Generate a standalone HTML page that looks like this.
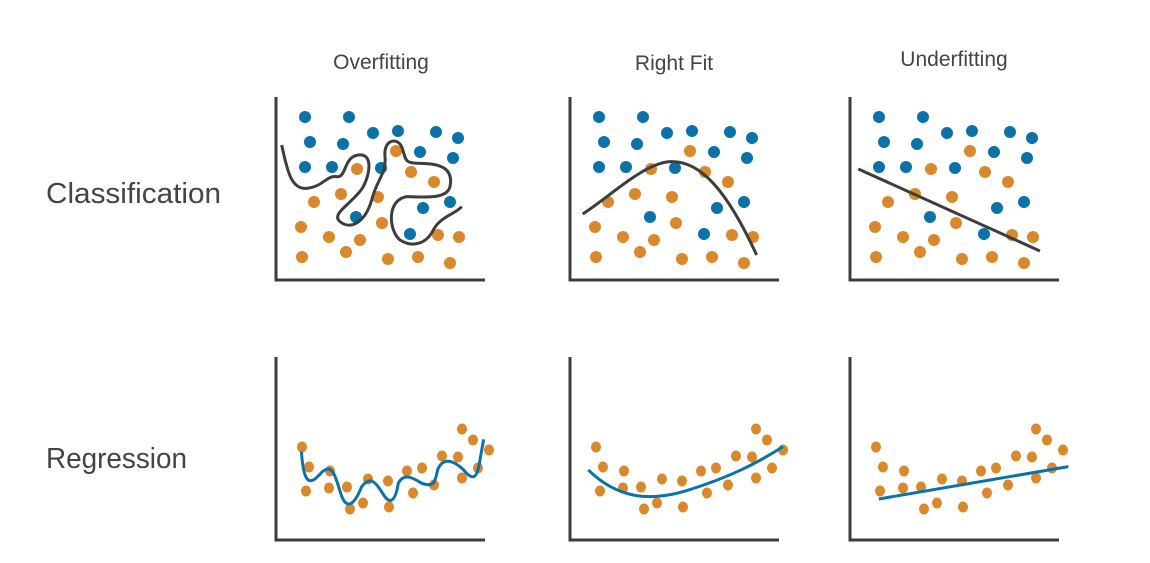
<!DOCTYPE html>
<html><head><meta charset="utf-8"><style>
html,body{margin:0;padding:0;background:#fff;width:1150px;height:563px;overflow:hidden}
svg{display:block}
text{font-family:"Liberation Sans",sans-serif;fill:#444}
</style></head><body>
<svg width="1150" height="563" viewBox="0 0 1150 563">
<defs>
<g id="cdots">
<g fill="#0a72a8">
<circle cx="305" cy="117" r="6"/><circle cx="349" cy="117" r="6"/><circle cx="310" cy="142" r="6"/><circle cx="343" cy="144" r="6"/><circle cx="373" cy="133" r="6"/><circle cx="398" cy="131" r="6"/><circle cx="436" cy="132" r="6"/><circle cx="458" cy="138" r="6"/><circle cx="420" cy="152" r="6"/><circle cx="453" cy="158" r="6"/><circle cx="305" cy="167" r="6"/><circle cx="332" cy="167" r="6"/><circle cx="381" cy="168" r="6"/><circle cx="356" cy="217" r="6"/><circle cx="423" cy="208" r="6"/><circle cx="450" cy="202" r="6"/><circle cx="410" cy="234" r="6"/>
</g>
<g fill="#d9882c">
<circle cx="396" cy="151" r="6"/><circle cx="357" cy="169" r="6"/><circle cx="411" cy="172" r="6"/><circle cx="434" cy="182" r="6"/><circle cx="314" cy="202" r="6"/><circle cx="341" cy="194" r="6"/><circle cx="378" cy="197" r="6"/><circle cx="382" cy="223" r="6"/><circle cx="301" cy="227" r="6"/><circle cx="329" cy="237" r="6"/><circle cx="360" cy="240" r="6"/><circle cx="438" cy="235" r="6"/><circle cx="459" cy="237" r="6"/><circle cx="302" cy="257" r="6"/><circle cx="346" cy="252" r="6"/><circle cx="388" cy="259" r="6"/><circle cx="418" cy="257" r="6"/><circle cx="450" cy="263" r="6"/>
</g>
</g>
<g id="rdots" fill="#d9882c">
<ellipse cx="302" cy="447" rx="5" ry="5.5"/><ellipse cx="309" cy="467" rx="5" ry="5.5"/><ellipse cx="306" cy="491" rx="5" ry="5.5"/><ellipse cx="330" cy="471" rx="5" ry="5.5"/><ellipse cx="329" cy="488" rx="5" ry="5.5"/><ellipse cx="347" cy="487" rx="5" ry="5.5"/><ellipse cx="350" cy="509" rx="5" ry="5.5"/><ellipse cx="363" cy="503" rx="5" ry="5.5"/><ellipse cx="368" cy="479" rx="5" ry="5.5"/><ellipse cx="388" cy="481" rx="5" ry="5.5"/><ellipse cx="389" cy="507" rx="5" ry="5.5"/><ellipse cx="407" cy="471" rx="5" ry="5.5"/><ellipse cx="413" cy="493" rx="5" ry="5.5"/><ellipse cx="422" cy="468" rx="5" ry="5.5"/><ellipse cx="434" cy="485" rx="5" ry="5.5"/><ellipse cx="442" cy="456" rx="5" ry="5.5"/><ellipse cx="458" cy="457" rx="5" ry="5.5"/><ellipse cx="462" cy="429" rx="5" ry="5.5"/><ellipse cx="473" cy="440" rx="5" ry="5.5"/><ellipse cx="462" cy="478" rx="5" ry="5.5"/><ellipse cx="478" cy="468" rx="5" ry="5.5"/><ellipse cx="489" cy="450" rx="5" ry="5.5"/>
</g>
<path id="axc" d="M276,97 V280 H485" fill="none" stroke="#3d3d3d" stroke-width="3"/>
<path id="axr" d="M276,357 V540 H485" fill="none" stroke="#3d3d3d" stroke-width="3"/>
</defs>

<text x="381" y="69" font-size="21" text-anchor="middle">Overfitting</text>
<text x="674" y="70" font-size="21" text-anchor="middle">Right Fit</text>
<text x="954" y="66" font-size="21" text-anchor="middle">Underfitting</text>
<text x="46" y="203" font-size="29" textLength="175" lengthAdjust="spacingAndGlyphs">Classification</text>
<text x="46" y="468" font-size="29" textLength="141" lengthAdjust="spacingAndGlyphs">Regression</text>

<use href="#axc"/><use href="#axc" transform="translate(294,0)"/><use href="#axc" transform="translate(574,0)"/>
<use href="#axr"/><use href="#axr" transform="translate(294,0)"/><use href="#axr" transform="translate(574,0)"/>

<use href="#cdots"/><use href="#cdots" transform="translate(294,0)"/><use href="#cdots" transform="translate(574,0)"/>
<use href="#rdots"/><use href="#rdots" transform="translate(294,0)"/><use href="#rdots" transform="translate(574,0)"/>

<g fill="none" stroke="#3d3d3d" stroke-width="3">
<path transform="translate(270,90) scale(0.3333)" vector-effect="non-scaling-stroke" d="M35,165 C50,230 60,300 110,295 C160,290 170,255 200,260 C230,265 220,200 265,195 C310,190 300,250 280,290 C250,340 180,370 210,395 C240,420 285,400 305,330 C320,270 350,250 345,200 C340,150 380,140 395,170 C410,210 400,220 450,220 C520,220 550,240 540,290 C530,330 460,320 410,320 C350,330 355,420 390,450 C430,475 470,460 490,420 C510,380 560,370 575,350"/>
<path transform="translate(560,90) scale(0.3333)" vector-effect="non-scaling-stroke" d="M68,372 C150,320 250,220 330,215 C420,210 500,300 590,495"/>
<path transform="translate(560,90) scale(0.3333)" vector-effect="non-scaling-stroke" d="M895,237 L1440,483"/>
</g>
<g fill="none" stroke="#0a72a8" stroke-width="3">
<path transform="translate(270,350) scale(0.5235,0.3333)" vector-effect="non-scaling-stroke" d="M60,305 C65,420 80,400 100,365 C120,340 125,380 135,430 C145,480 160,470 175,410 C190,380 200,390 215,430 C230,470 240,450 245,400 C255,370 270,380 290,400 C310,410 315,405 320,360 C330,320 350,330 370,360 C385,390 395,390 400,340 L408,268"/>
<path transform="translate(270,350) scale(0.5235,0.3333)" vector-effect="non-scaling-stroke" d="M608,360 C660,440 720,460 800,420 C880,380 930,340 980,290"/>
<path transform="translate(270,350) scale(0.5235,0.3333)" vector-effect="non-scaling-stroke" d="M1163,447 L1525,350"/>
</g>
</svg>
</body></html>
